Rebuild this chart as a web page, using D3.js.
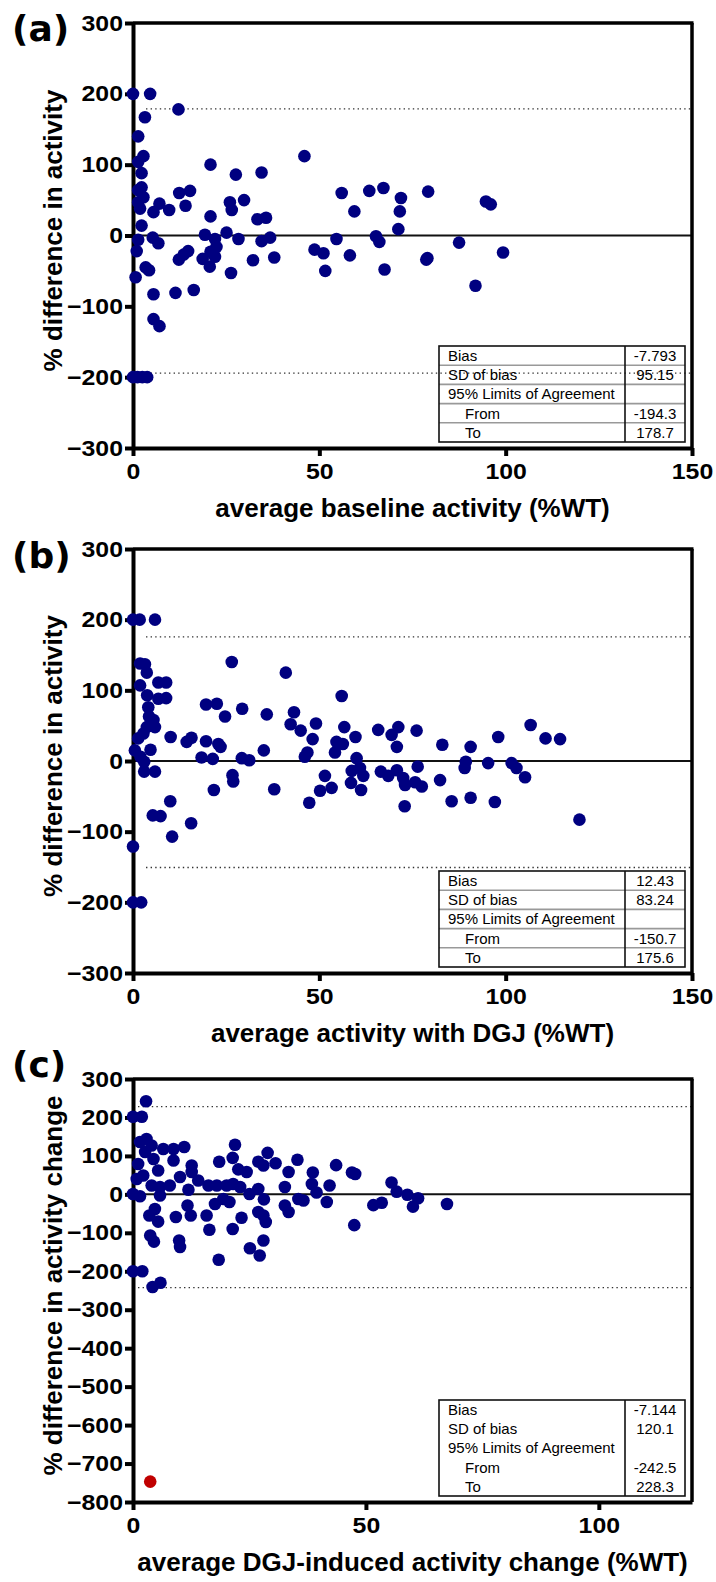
<!DOCTYPE html>
<html>
<head>
<meta charset="utf-8">
<script src="https://cdn.jsdelivr.net/npm/d3@7"></script>
<style>
  body { margin: 0; background: #fff; }
  svg text { font-family: "Liberation Sans", Arial, sans-serif; }
</style>
</head>
<body>
<svg id="chart" width="716" height="1582"></svg>
<script>
// ---- data ----
const baselinePoints = [
  [0,200],[4.6,200],[12.2,178],[3.2,167],[1.4,140],[2.8,112],[1.4,104],[2.3,88],[20.8,100],[27.6,86],
  [34.5,89],[46,112],[2.3,68],[1.4,64],[2.8,54],[1.4,47],[1.9,38],[7.1,45],[5.5,33],[9.7,36],
  [2.3,14],[12.4,60],[15.3,63],[14.1,42],[20.8,27],[26,47],[26.5,36],[29.8,50],[33.4,23],[35.7,25],
  [56,60],[59.4,34],[63.4,63],[67.2,67],[71.9,53],[71.6,34],[71.2,9],[79.2,62],[94.7,48],[96,44],
  [19.3,1],[25.1,4],[22,-5],[28.3,-5],[34.5,-8],[36.8,-3],[54.6,-5],[65.2,-1],[66.1,-9],[5.3,-3],
  [6.8,-11],[1.4,-6],[1,-22],[87.5,-10],[99.3,-24],[79,-32],
  [0.7,-59],[3.4,-45],[4.3,-49],[5.5,-83],[5.5,-118],[7.1,-128],[11.4,-81],[16.3,-77],[12.3,-34],[13.6,-27],
  [14.8,-22],[18.7,-33],[20.6,-44],[20.8,-23],[22.4,-16],[22,-30],[26.3,-53],[32.2,-35],[37.9,-31],[48.7,-20],
  [51.1,-25],[51.6,-50],[58.2,-28],[67.5,-48],[78.7,-34],[91.9,-71],
  [0,-200],[1.2,-200],[2.5,-200],[3.8,-200]
];

const dgjPoints = [
  [0,200],[1.8,200],[5.9,200],[1.9,138],[3.2,137],[3.7,125],[1.9,107],[6.8,111],[8.9,111],[3.8,93],
  [4.1,76],[6.8,88],[8.9,89],[4.3,63],[5.5,58],[5.9,48],[3.7,48],[2.8,39],[1.4,32],[0.5,15],
  [2,6],[3,-1],[3,-15],[5.9,-15],[4.7,16],[10.1,34],[14.4,27],[15.7,33],[19.6,80],[22.5,81],
  [26.5,140],[24.7,63],[29.3,74],[19.6,28],[22.9,24],[23.5,20],[18.4,5],[21.4,3],[29.2,4],[31.2,1],
  [35.1,15],[35.9,66],[41,125],[43.2,69],[42.3,52],[45,43],[49.1,53],[48.2,31],[46.8,12],[46.1,6],
  [56,92],[56.7,48],[54.6,27],[56.3,24],[54.2,12],[59.7,34],[60,4],[65.8,44],[69.4,37],[71.2,48],
  [70.8,20],[76.1,43],[76.4,-8],[83,23],[90.6,20],[98,34],[106.7,51],[110.7,32],[114.6,31],[82.4,-27],
  [89.3,-1],[89,-10],[95.3,-3],[101.6,-3],[102.9,-10],[105.2,-23],
  [26.7,-20],[26.9,-29],[21.7,-41],[37.9,-40],[10,-57],[47.3,-59],[51.5,-21],[50.2,-42],[53.3,-38],[58.7,-14],
  [60.9,-10],[61.8,-21],[58.5,-31],[61.2,-41],[66.5,-15],[68.5,-21],[70.8,-13],[72.5,-24],[73,-34],[75.7,-30],
  [77.5,-36],[72.9,-64],[85.5,-57],[90.6,-52],[97.1,-58],[119.8,-83],[0,-121],[5.3,-77],[7.4,-78],[10.5,-107],
  [15.6,-88],[0,-200],[2.2,-200]
];

const changePoints = [
  [2.8,242],[0,202],[1.9,202],[1.5,136],[2.9,144],[4,127],[2.6,110],[1.1,79],[4.4,92],[5.4,62],
  [6.5,118],[8.7,118],[11,123],[8.7,88],[10.1,45],[12.6,75],[12.6,58],[14,36],[11.9,12],[0,1],
  [1.5,-5],[4,23],[5.8,19],[7.9,23],[5.8,-3],[2.2,49],[0.8,40],[4.7,-38],[3.5,-55],[5.4,-71],
  [9.2,-59],[11.7,-29],[12.4,-55],[3.7,-107],[4.5,-123],[16.2,23],[18,23],[20.1,23],[21.5,27],[18.5,85],
  [15.8,-55],[16.4,-92],[17.6,-25],[19.4,-12],[20.7,-20],[21.4,95],[21.9,129],[22.6,65],[24.4,58],[23,19],
  [25,1],[23.3,-61],[21.4,-90],[26.9,85],[28,75],[26.9,14],[28.1,-13],[28.9,108],[30.6,81],[26.9,-46],
  [28,-55],[28.5,-72],[32.6,19],[33.4,58],[35.3,90],[32.6,-29],[33.4,-46],[35.5,-12],[36.6,-16],[38.6,57],
  [38.4,27],[39.4,5],[41.6,-20],[42.2,23],[43.6,76],[47,57],[47.7,53],[47.5,-80],[51.6,-28],[53.4,-22],
  [55.5,31],[56.6,7],[58.9,-1],[61.2,-10],[60.1,-32],[67.4,-25],
  [0,-200],[2,-200],[4.2,-241],[5.9,-230],[9.9,-120],[10.1,-137],[18.4,-170],[25.1,-140],[27.2,-159],[28,-120]
];
const changeOutliers = [[3.7,-747]];

const yTicksAB = [-300,-200,-100,0,100,200,300];
const yTicksC = [-800,-700,-600,-500,-400,-300,-200,-100,0,100,200,300];
const xTicksAB = [0,50,100,150];
const xTicksC = [0,50,100];

const statLabels = ["Bias","SD of bias","95% Limits of Agreement","From","To"];
const statsA = ["-7.793","95.15","","-194.3","178.7"];
const statsB = ["12.43","83.24","","-150.7","175.6"];
const statsC = ["-7.144","120.1","","-242.5","228.3"];
const limitsA = [-194.3,178.7];
const limitsB = [-150.7,175.6];
const limitsC = [-242.5,228.3];

// ---- layout ----
const svg = d3.select("#chart");
const left = 133, right = 692;
const dotColor = "#000080";
const stretch = 1.13; // tick labels are a little wide in the original

const panels = [
  { tag:"(a)", tagY:41, top:23, bottom:448, xMax:150, yDomain:[-300,300], xTicks:xTicksAB, yTicks:yTicksAB,
    points:baselinePoints, outliers:[], limits:limitsA, stats:statsA, rowLines:true, lineGap:13,
    xTitle:"average baseline activity (%WT)", yTitle:"% difference in activity" },
  { tag:"(b)", tagY:568, top:549, bottom:973, xMax:150, yDomain:[-300,300], xTicks:xTicksAB, yTicks:yTicksAB,
    points:dgjPoints, outliers:[], limits:limitsB, stats:statsB, rowLines:true, lineGap:13,
    xTitle:"average activity with DGJ (%WT)", yTitle:"% difference in activity" },
  { tag:"(c)", tagY:1077, top:1079, bottom:1502, xMax:120, yDomain:[-800,300], xTicks:xTicksC, yTicks:yTicksC,
    points:changePoints, outliers:changeOutliers, limits:limitsC, stats:statsC, rowLines:false, lineGap:5,
    xTitle:"average DGJ-induced activity change (%WT)", yTitle:"% difference in activity change" }
];

panels.forEach(p => {
  const x = d3.scaleLinear().domain([0, p.xMax]).range([left, right]);
  const y = d3.scaleLinear().domain(p.yDomain).range([p.bottom, p.top]);
  const g = svg.append("g");

  // reference lines
  g.append("line")
    .attr("x1", left).attr("x2", right)
    .attr("y1", y(0)).attr("y2", y(0))
    .attr("stroke", "#111").attr("stroke-width", 2);

  g.selectAll(".limit")
    .data(p.limits)
    .enter()
    .append("line")
    .attr("class", "limit")
    .attr("x1", left + p.lineGap).attr("x2", right)
    .attr("y1", d => y(d)).attr("y2", d => y(d))
    .attr("stroke", "#333").attr("stroke-width", 1.3)
    .attr("stroke-dasharray", "1.4,3.2");

  // stats table (no fill, lines show through)
  const tw = 246, th = 96, colX = 186, rowH = th / 5;
  const table = g.append("g")
    .attr("transform", `translate(${right - 7 - tw},${p.bottom - 6 - th})`);
  if (p.rowLines) {
    table.selectAll(".row")
      .data([1,2,3,4])
      .enter()
      .append("line")
      .attr("x1", 0).attr("x2", tw)
      .attr("y1", d => d * rowH).attr("y2", d => d * rowH)
      .attr("stroke", "#999").attr("stroke-width", 1.6);
  }
  table.append("rect")
    .attr("width", tw).attr("height", th)
    .attr("fill", "none").attr("stroke", "#111").attr("stroke-width", 1.6);
  table.append("line")
    .attr("x1", colX).attr("x2", colX).attr("y1", 0).attr("y2", th)
    .attr("stroke", "#111").attr("stroke-width", 1.6);
  table.selectAll(".lab")
    .data(statLabels)
    .enter()
    .append("text")
    .attr("x", (d, i) => i >= 3 ? 26 : 9)
    .attr("y", (d, i) => i * rowH + 15)
    .attr("font-size", 15)
    .text(d => d);
  table.selectAll(".val")
    .data(p.stats)
    .enter()
    .append("text")
    .attr("x", (colX + tw) / 2)
    .attr("y", (d, i) => i * rowH + 15)
    .attr("text-anchor", "middle")
    .attr("font-size", 15)
    .text(d => d);

  // axes
  const yAxis = d3.axisLeft(y).tickValues(p.yTicks).tickSize(8).tickSizeOuter(0).tickPadding(2);
  const xAxis = d3.axisBottom(x).tickValues(p.xTicks).tickSize(8).tickSizeOuter(0).tickPadding(7);

  const ya = g.append("g").attr("transform", `translate(${left},0)`).call(yAxis);
  const xa = g.append("g").attr("transform", `translate(0,${p.bottom})`).call(xAxis);
  [ya, xa].forEach(a => {
    a.select(".domain").attr("stroke", "#000").attr("stroke-width", 4);
    a.selectAll(".tick line").attr("stroke", "#000").attr("stroke-width", 4);
    a.selectAll(".tick text")
      .attr("fill", "#000")
      .attr("font-size", 22)
      .attr("font-weight", "bold")
      .attr("font-family", "'Liberation Sans', Arial, sans-serif");
  });
  // widen the tick labels while keeping their anchor points
  ya.selectAll(".tick text")
    .attr("x", -10 / stretch)
    .attr("transform", `scale(${stretch},1)`);
  xa.selectAll(".tick text")
    .attr("transform", `scale(${stretch},1)`);

  // frame top and right
  g.append("line").attr("x1", left).attr("x2", right + 1.5).attr("y1", p.top).attr("y2", p.top)
    .attr("stroke", "#000").attr("stroke-width", 3.5);
  g.append("line").attr("x1", right).attr("x2", right).attr("y1", p.top).attr("y2", p.bottom)
    .attr("stroke", "#000").attr("stroke-width", 3.5);

  // points
  g.selectAll(".dot")
    .data(p.points)
    .enter()
    .append("circle")
    .attr("cx", d => x(d[0]))
    .attr("cy", d => y(d[1]))
    .attr("r", 6.3)
    .attr("fill", dotColor);

  g.selectAll(".outlier")
    .data(p.outliers)
    .enter()
    .append("circle")
    .attr("cx", d => x(d[0]))
    .attr("cy", d => y(d[1]))
    .attr("r", 6.3)
    .attr("fill", "#c00000");

  // titles
  g.append("text")
    .attr("x", (left + right) / 2)
    .attr("y", p.bottom + 69)
    .attr("text-anchor", "middle")
    .attr("font-size", 26)
    .attr("font-weight", "bold")
    .text(p.xTitle);

  g.append("text")
    .attr("transform", `translate(62,${(p.top + p.bottom) / 2 - 5}) rotate(-90)`)
    .attr("text-anchor", "middle")
    .attr("font-size", 26)
    .attr("font-weight", "bold")
    .text(p.yTitle);

  g.append("text")
    .attr("x", 12)
    .attr("y", p.tagY)
    .attr("font-size", 36)
    .attr("font-weight", "bold")
    .style("font-family", "'DejaVu Sans', sans-serif")
    .text(p.tag);
});
</script>
</body>
</html>
